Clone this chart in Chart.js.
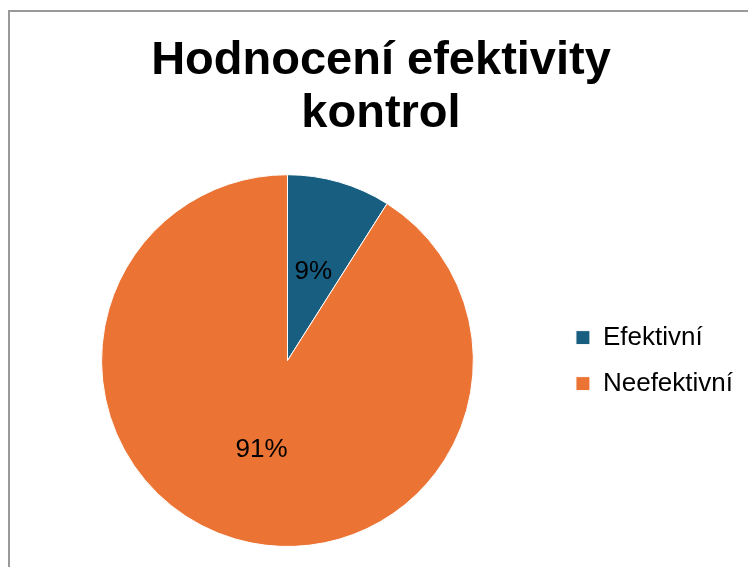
<!DOCTYPE html>
<html>
<head>
<meta charset="utf-8">
<script src="https://cdn.jsdelivr.net/npm/chart.js@4"></script>
<style>
  html, body { margin: 0; padding: 0; background: #fff; }
  .frame {
    position: absolute; left: 8px; top: 10px; right: -10px; bottom: -10px;
    border-left: 2px solid #999; border-top: 2px solid #999;
  }
  .chart-container { position: absolute; left: 0; top: 0; width: 748px; height: 567px; }
</style>
</head>
<body>
<div class="frame"></div>
<div class="chart-container"><canvas id="pie"></canvas></div>
<script>
const categories = ['Efektivní', 'Neefektivní'];
const percentages = [9, 91];
const sliceColors = ['#175E80', '#EB7334'];
const titleLines = ['Hodnocení efektivity', 'kontrol'];

const FONT = '"Liberation Sans", Arial, sans-serif';

// percentage labels in the middle of each slice
const sliceLabels = {
    id: 'sliceLabels',
    afterDatasetsDraw(chart) {
        const { ctx } = chart;
        const meta = chart.getDatasetMeta(0);
        ctx.save();
        ctx.font = '26px ' + FONT;
        ctx.fillStyle = '#000';
        ctx.textAlign = 'center';
        ctx.textBaseline = 'middle';
        meta.data.forEach((arc, i) => {
            const p = arc.tooltipPosition();
            ctx.fillText(percentages[i] + '%', p.x, p.y);
        });
        ctx.restore();
    }
};

new Chart(document.getElementById('pie'), {
    type: 'pie',
    data: {
        labels: categories,
        datasets: [{
            data: percentages,
            backgroundColor: sliceColors,
            borderColor: '#ffffff',
            borderWidth: 1
        }]
    },
    options: {
        responsive: true,
        maintainAspectRatio: false,
        animation: false,
        layout: { padding: { left: 19, right: 5, top: 0, bottom: 20 } },
        plugins: {
            title: {
                display: true,
                text: titleLines,
                color: '#000',
                font: { family: FONT, size: 47, weight: 'bold', lineHeight: 1.13 },
                padding: { top: 34, bottom: 34 }
            },
            legend: {
                position: 'right',
                fullSize: false,
                labels: {
                    color: '#000',
                    font: { family: FONT, size: 26 },
                    boxWidth: 14,
                    boxHeight: 14,
                    padding: 20
                }
            },
            tooltip: { enabled: false }
        }
    },
    plugins: [sliceLabels]
});
</script>
</body>
</html>
